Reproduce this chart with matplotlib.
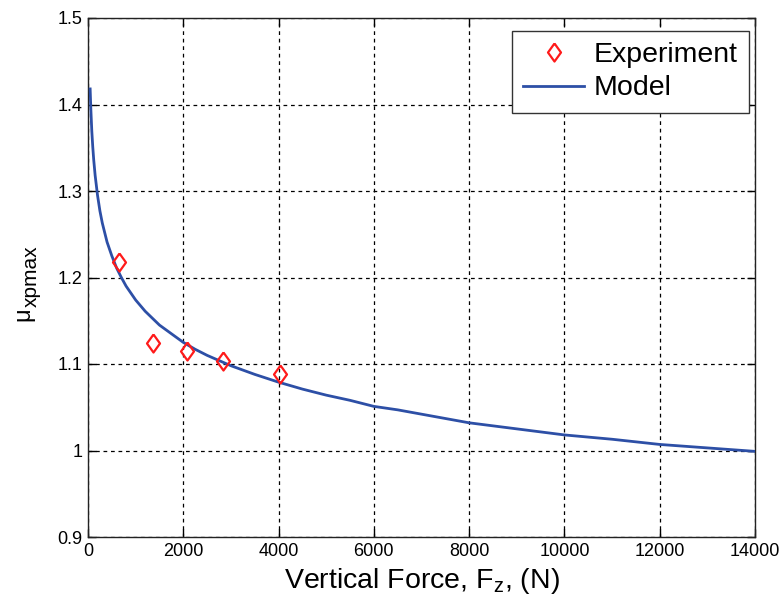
import matplotlib
matplotlib.use("Agg")
import matplotlib.pyplot as plt

# Measured peak friction coefficient vs vertical load
fz_exp = [660, 1370, 2070, 2830, 4020]
mu_exp = [1.218, 1.124, 1.115, 1.104, 1.088]

# Fitted model curve
fz_model = [45, 60, 80, 100, 120, 150, 200, 250, 300, 400, 500, 600, 700,
            800, 1000, 1200, 1500, 1750, 2000, 2250, 2500, 3000, 3500, 4000,
            4500, 5000, 5500, 6000, 6500, 7000, 7500, 8000, 9000, 10000,
            11000, 12000, 13000, 14000]
mu_model = [1.418, 1.394, 1.369, 1.351, 1.336, 1.318, 1.295, 1.277, 1.263,
            1.241, 1.225, 1.211, 1.200, 1.190, 1.174, 1.161, 1.145, 1.135,
            1.125, 1.117, 1.110, 1.098, 1.088, 1.079, 1.071, 1.064, 1.058,
            1.051, 1.047, 1.042, 1.037, 1.032, 1.025, 1.018, 1.013, 1.007,
            1.003, 0.999]

x_ticks = [0, 2000, 4000, 6000, 8000, 10000, 12000, 14000]
y_ticks = [0.9, 1.0, 1.1, 1.2, 1.3, 1.4, 1.5]
y_tick_labels = ["0.9", "1", "1.1", "1.2", "1.3", "1.4", "1.5"]

plt.rcParams["font.family"] = ["Liberation Sans", "DejaVu Sans"]
plt.rcParams["mathtext.fontset"] = "custom"
plt.rcParams["mathtext.rm"] = "Liberation Sans"

fig = plt.figure(figsize=(7.84, 6.09), dpi=100)
ax = fig.add_axes([88 / 784, 1 - 537 / 609, (755 - 88) / 784, (537 - 18) / 609])

# tall open diamond, like the classic 'd' marker
diamond = [(0, 1), (0.72, 0), (0, -1), (-0.72, 0), (0, 1)]

ax.plot(fz_exp, mu_exp, linestyle="none", marker=diamond, markersize=13,
        markerfacecolor="none", markeredgecolor="#ff1a1a", markeredgewidth=1.6,
        label="Experiment", zorder=4)
ax.plot(fz_model, mu_model, color="#2d4fa6", linewidth=2.0, label="Model",
        zorder=3)

ax.set_xlim(0, 14000)
ax.set_ylim(0.9, 1.5)
ax.set_xticks(x_ticks)
ax.set_yticks(y_ticks)
ax.set_yticklabels(y_tick_labels)
ax.tick_params(direction="in", top=True, right=True, length=6, width=1,
               labelsize=13, pad=4)

ax.grid(True, color="black", linestyle=(0, (3, 3)), linewidth=0.9)
for s in ax.spines.values():
    s.set_linewidth(1.0)
    s.set_color("#222222")

ax.set_xlabel(r"Vertical Force, F$_{\mathregular{z}}$, (N)", fontsize=20.5,
              labelpad=5)

# y label: mu with a subscript, rotated
fig.text(23 / 784, 1 - 314 / 609, "\u03bc", rotation=90, fontsize=17,
         ha="center", va="center")
fig.text(31 / 784, 1 - 276 / 609, "xpmax", rotation=90, fontsize=15,
         ha="center", va="center")

leg = ax.legend(loc="upper right", bbox_to_anchor=(0.991, 0.975),
                fontsize=20.5, frameon=True, fancybox=False, framealpha=1,
                edgecolor="#333333", handlelength=2.16, handletextpad=0.32,
                labelspacing=0.25, borderpad=0.4, borderaxespad=0.0)
leg.get_frame().set_linewidth(1.0)

fig.savefig("out.png", dpi=100)
